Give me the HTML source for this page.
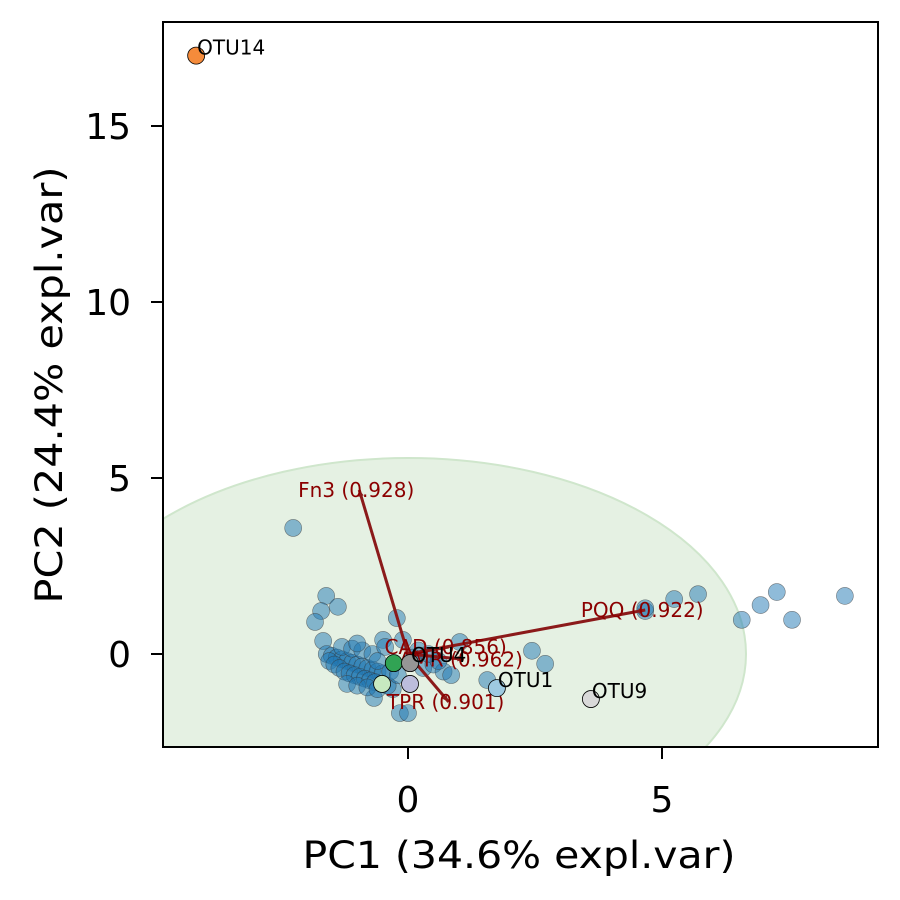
<!DOCTYPE html>
<html><head><meta charset="utf-8"><style>
body{margin:0;background:#fff;}
svg{display:block;font-family:"DejaVu Sans","Liberation Sans",sans-serif;}
</style></head><body>
<svg id="chart" width="900" height="900"></svg>
<script>
const ptsX=[-2.26,-1.61,-1.38,-1.71,-1.83,-0.22,-1.67,-0.49,1.02,2.44,2.7,1.56,4.67,5.24,5.71,4.67,6.57,6.94,7.26,7.56,8.6,-0.16,0.0,-0.67,-0.3,
 -1.6,-1.5,-1.4,-1.3,-1.2,-1.1,-1.0,-0.9,-0.8,-0.7,-0.6,-0.5,-1.55,-1.45,-1.35,-1.25,-1.15,-1.05,-0.95,-0.85,-0.75,-0.65,-1.3,-1.1,-0.9,-0.7,-1.2,-1.0,-0.8,-0.6,-0.4,-0.45,-0.35,0.2,0.3,0.5,0.7,0.85,-0.1,0.1,0.4,0.6,-0.2,-1.0,-0.6];
const ptsY=[3.58,1.65,1.34,1.22,0.91,1.02,0.37,0.4,0.34,0.09,-0.28,-0.74,1.22,1.56,1.7,1.3,0.97,1.39,1.76,0.97,1.65,-1.68,-1.68,-1.25,-1.0,
 0.0,-0.05,-0.1,-0.15,-0.2,-0.25,-0.3,-0.35,-0.4,-0.45,-0.5,-0.55,-0.2,-0.3,-0.4,-0.5,-0.55,-0.6,-0.65,-0.7,-0.75,-0.8,0.2,0.15,0.1,0.0,-0.85,-0.9,-0.95,-1.0,-0.9,0.2,-0.5,0.1,-0.4,-0.3,-0.5,-0.6,0.4,-0.1,0.0,-0.2,-0.6,0.3,-0.2];
const spX=[-4.17,3.6,1.75,-0.28,0.04,-0.51,0.04];
const spY=[17.0,-1.28,-0.97,-0.26,-0.26,-0.85,-0.85];
const spLabel=["OTU14","OTU9","OTU1","","OTU4","",""];
const spColor=["#f58b3b","#d9d9d9","#9ecae1","#31a354","#969696","#c7e9c0","#bcbddc"];
const vecNames=["Fn3 (0.928)","PQQ (0.922)","CAD (0.856)","AMR (0.962)","TPR (0.901)"];
const vecX=[-0.96,4.67,0.8,1.1,0.8];
const vecY=[4.66,1.25,0.2,-0.15,-1.36];
const xTicks=[0,5], yTicks=[0,5,10,15];
const X0=163,X1=878,Y0=22,Y1=747;
const sx=v=>408+v*50.8, sy=v=>654-v*35.2;
const NS="http://www.w3.org/2000/svg";
const svg=document.getElementById('chart');
function mk(t,a,p){const e=document.createElementNS(NS,t);for(const k in a)e.setAttribute(k,a[k]);(p||svg).appendChild(e);return e;}
const defs=mk('defs',{});
const cp=mk('clipPath',{id:'c'},defs);mk('rect',{x:X0,y:Y0,width:X1-X0,height:Y1-Y0},cp);
const g=mk('g',{'clip-path':'url(#c)'});
const ell=mk('ellipse',{cx:sx(0),cy:sy(0),rx:338,ry:196,fill:'#e5f1e3',stroke:'#cfe6cc','stroke-width':2},g);


for(let i=0;i<ptsX.length;i++){
 const c=mk('circle',{cx:sx(ptsX[i]),cy:sy(ptsY[i]),r:8.5,fill:'#1f77b4','fill-opacity':0.5,stroke:'#333','stroke-opacity':0.6,'stroke-width':0.6},g);
 
 
}
for(let i=0;i<vecX.length;i++){
 const x1=sx(0),y1=sy(0),x2=sx(vecX[i]),y2=sy(vecY[i]);
 const l=mk('line',{x1:x1,y1:y1,x2:x2,y2:y2,stroke:'#8b1a1a','stroke-width':3},g);
 
 
 const a=Math.atan2(y2-y1,x2-x1),h=7;
 mk('polygon',{points:`${x2},${y2} ${x2-h*Math.cos(a-0.4)},${y2-h*Math.sin(a-0.4)} ${x2-h*Math.cos(a+0.4)},${y2-h*Math.sin(a+0.4)}`,fill:'#8b1a1a'},g);
}
for(let i=0;i<vecX.length;i++){
 const t=mk('text',{x:sx(vecX[i])-3,y:sy(vecY[i])+7,'text-anchor':'middle','font-size':20,fill:'#8b0000'},g);
 t.textContent=vecNames[i];
 
 
}
for(let i=0;i<spX.length;i++){
 const c=mk('circle',{cx:sx(spX[i]),cy:sy(spY[i]),r:8.5,fill:spColor[i],stroke:'#000','stroke-width':0.8},g);
 
 
 if(spLabel[i]){const t=mk('text',{x:sx(spX[i])+1,y:sy(spY[i])-1,'font-size':20,fill:'#000'},g);t.textContent=spLabel[i];
 
 }
}
const fr=mk('rect',{x:X0,y:Y0,width:X1-X0,height:Y1-Y0,fill:'none',stroke:'#000','stroke-width':2});


xTicks.forEach(v=>{mk('line',{x1:sx(v),x2:sx(v),y1:Y1,y2:Y1+12,stroke:'#000','stroke-width':2});
 const t=mk('text',{x:sx(v),y:812,'text-anchor':'middle','font-size':36});t.textContent=v;
 
 });
yTicks.forEach(v=>{mk('line',{x1:X0-12,x2:X0,y1:sy(v),y2:sy(v),stroke:'#000','stroke-width':2});
 const t=mk('text',{x:X0-32,y:sy(v)+13,'text-anchor':'end','font-size':36});t.textContent=v;
 
 });
const xt=mk('text',{x:519,y:868,'text-anchor':'middle','font-size':37,textLength:433,lengthAdjust:'spacingAndGlyphs'});xt.textContent='PC1 (34.6% expl.var)';


const yt=mk('text',{x:385,y:62,'text-anchor':'middle','font-size':37,textLength:437,lengthAdjust:'spacingAndGlyphs',transform:'rotate(-90) translate(-770 0)'});yt.textContent='PC2 (24.4% expl.var)';


</script>
</body></html>
